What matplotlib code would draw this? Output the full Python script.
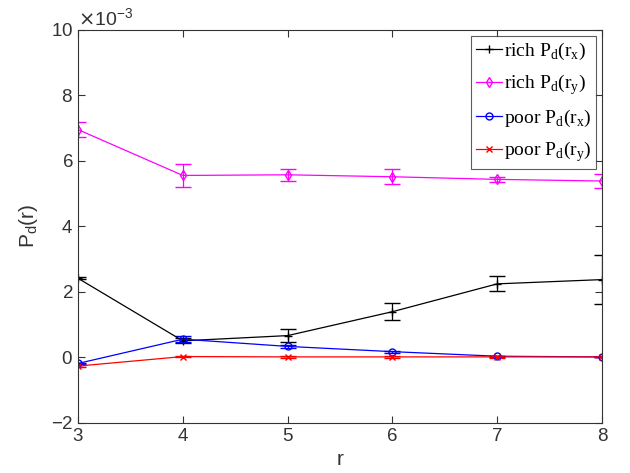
import matplotlib
matplotlib.use("Agg")
import matplotlib.pyplot as plt
from matplotlib.ticker import ScalarFormatter
from matplotlib.lines import Line2D

r = [3, 4, 5, 6, 7, 8]
scale = 1e-3
rich_x = [2.41, 0.50, 0.66, 1.39, 2.24, 2.37]
rich_x_err = [0.03, 0.08, 0.21, 0.26, 0.23, 0.75]
rich_y = [6.95, 5.55, 5.57, 5.51, 5.43, 5.38]
rich_y_err = [0.24, 0.35, 0.18, 0.23, 0.08, 0.21]
poor_x = [-0.19, 0.55, 0.33, 0.17, 0.03, 0.01]
poor_x_err = [0.02, 0.09, 0.04, 0.03, 0.02, 0.01]
poor_y = [-0.27, 0.02, 0.01, 0.01, 0.01, 0.01]
poor_y_err = [0.02, 0.02, 0.02, 0.02, 0.02, 0.01]

labels = ["rich P$_\\mathregular{d}$(r$_\\mathregular{x}$)",
          "rich P$_\\mathregular{d}$(r$_\\mathregular{y}$)",
          "poor P$_\\mathregular{d}$(r$_\\mathregular{x}$)",
          "poor P$_\\mathregular{d}$(r$_\\mathregular{y}$)"]

plt.rcParams['font.family'] = ['Liberation Sans', 'DejaVu Sans']
plt.rcParams['axes.unicode_minus'] = False
axcol = '#333333'

fig = plt.figure(figsize=(6.3, 4.73), dpi=100)
ax = fig.add_axes([0.1238, 0.1063, 0.8318, 0.8309])

series = [
    (rich_x, rich_x_err, 'black', '+', 6, 'full'),
    (rich_y, rich_y_err, '#FF00FF', 'd', 5, 'none'),
    (poor_x, poor_x_err, '#0000FF', 'o', 5, 'none'),
    (poor_y, poor_y_err, '#FF0000', 'x', 5, 'full'),
]
handles = []
for (vals, errs, col, mk, ms, fs), lab in zip(series, labels):
    y = [v * scale for v in vals]
    e = [v * scale for v in errs]
    mfc = 'none' if fs == 'none' else col
    ax.errorbar(r, y, yerr=e, color=col, marker=mk, markersize=ms,
                markerfacecolor=mfc, markeredgewidth=1.0, linewidth=0.9,
                elinewidth=0.9, capsize=6, capthick=0.9)
    handles.append(Line2D([], [], color=col, marker=mk, markersize=ms,
                          markerfacecolor=mfc, markeredgewidth=1.0,
                          linewidth=0.9, label=lab))

ax.set_xlim(3, 8)
ax.set_ylim(-2e-3, 10e-3)
ax.set_xticks(r)
ax.set_yticks([v * scale for v in [-2, 0, 2, 4, 6, 8, 10]])
fmt = ScalarFormatter(useMathText=True)
fmt.set_powerlimits((-3, -3))
ax.yaxis.set_major_formatter(fmt)
ax.yaxis.get_offset_text().set_fontsize(14)
ax.yaxis.get_offset_text().set_color(axcol)

ax.tick_params(direction='in', top=True, right=True, labelsize=13.5,
               colors=axcol, length=5, width=0.8)
for s in ax.spines.values():
    s.set_color(axcol)
    s.set_linewidth(0.8)

ax.set_xlabel('r', fontsize=15, color=axcol, labelpad=4)
ax.set_ylabel('P$_\\mathregular{d}$(r)', fontsize=15, color=axcol, labelpad=8)

leg = ax.legend(handles=handles, loc='upper right', bbox_to_anchor=(0.988, 0.985),
                prop={'family': 'Liberation Serif', 'size': 14},
                frameon=True, fancybox=False, edgecolor='#333333',
                handlelength=1.3, handletextpad=0.1, labelspacing=0.55,
                borderpad=0.25, borderaxespad=0.0)
leg.get_frame().set_linewidth(0.8)

fig.savefig('out.png', dpi=100)
